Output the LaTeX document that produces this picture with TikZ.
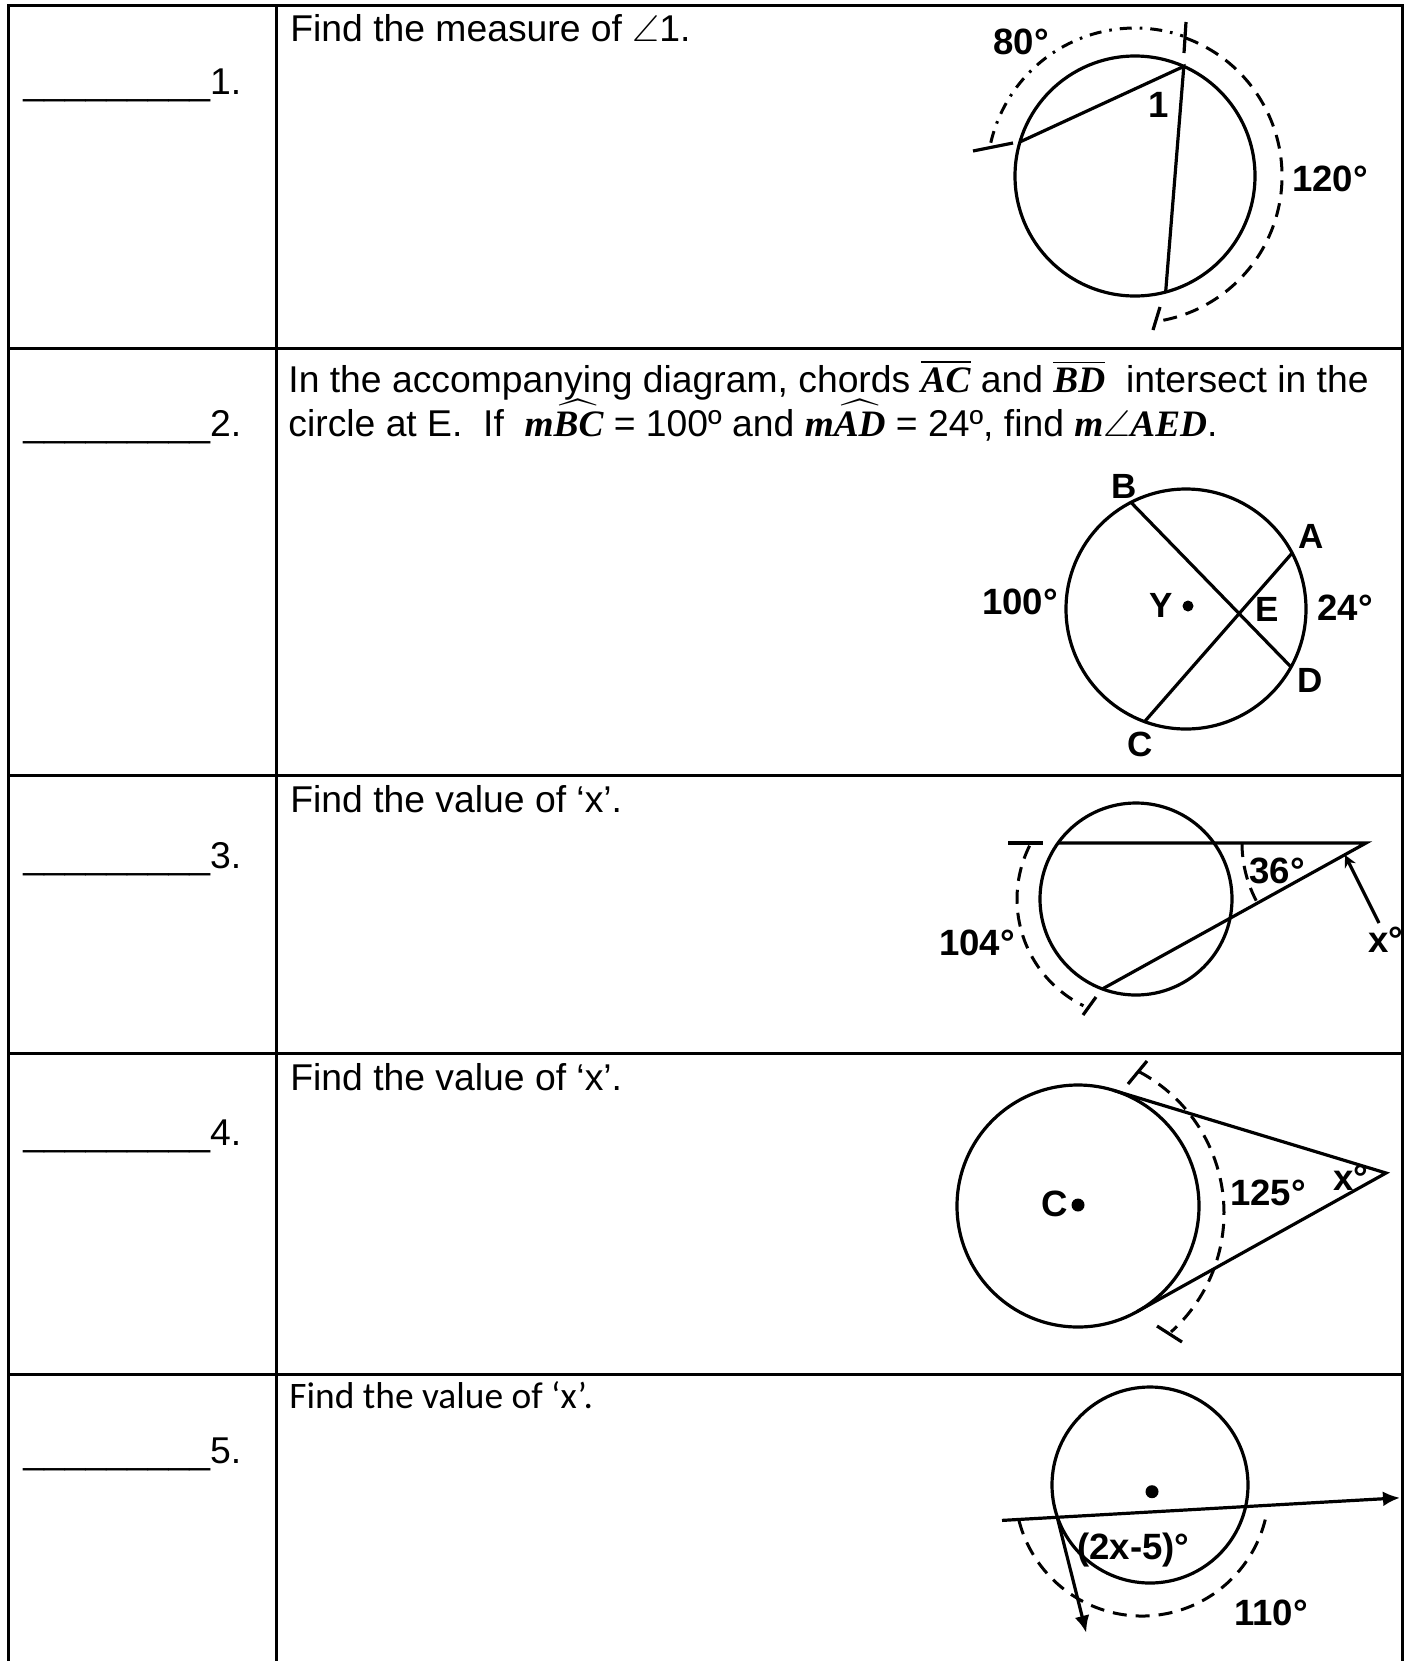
\documentclass[tikz,border=0pt]{standalone}
\usepackage{amsmath}
\usepackage{amssymb}
\usepackage{fontspec}
\setmainfont{Liberation Sans}
\newfontfamily\calibrifont{Carlito}
\newfontfamily\seriffont{Liberation Serif}
\usetikzlibrary{calc,arrows.meta}
\newcommand{\answerline}{\_\_\_\_\_\_\_\_\_}
\newcommand{\mvar}[1]{\hbox{\seriffont\bfseries\itshape #1}}

\begin{document}
\begin{tikzpicture}[x=0.5pt, y=0.5pt,
		tbl/.style={line width=1.5pt},
		fig/.style={line width=1.6pt},
		dsh/.style={line width=1.5pt, dash pattern=on 7pt off 4.5pt},
		dshdot/.style={line width=1.5pt, dash pattern=on 6pt off 4pt on 1.3pt off 4pt},
		txt/.style={anchor=base west, inner sep=0pt, font=\fontsize{18.65}{22}\selectfont},
		txtc/.style={anchor=base west, inner sep=0pt, font=\calibrifont\fontsize{18.7}{22}\selectfont},
		lbl/.style={inner sep=0pt, font=\bfseries\fontsize{17.5}{19}\selectfont},
		deg/.style={inner sep=0pt, font=\bfseries\fontsize{18.3}{20}\selectfont}]
		\useasboundingbox (0,0) rectangle (1406,-1661);
		\draw[tbl] (8,-1680) -- (8,-5.5) -- (1402,-5.5) -- (1402,-1680);
		\draw[tbl] (276,-5.5) -- (276,-1680);
		\foreach \y in {348,775,1053,1374}
			\draw[tbl] (8,-\y) -- (1402,-\y);
		\foreach \n/\y in {1/94, 2/436, 3/868, 4/1145, 5/1463}
			\node[txt] (ans\n) at (23,-\y) {\answerline\n.};
		\node[txt] (q1) at (290,-41.7) {Find the measure of $\angle$1.};
		\node[txt] (q2a) at (288,-392) {In the accompanying diagram, chords $\overline{\mvar{AC}}$ and $\overline{\mvar{BD}}$\ \ intersect in the};
		\node[txt] (q2b) at (288,-436) {circle at E.\ \ If\ \ $\mvar{m}\smash[t]{\widehat{\mvar{BC}}}$ = 100º and $\mvar{m}\smash[t]{\widehat{\mvar{AD}}}$ = 24º, find $\mvar{m}{\angle}\mvar{AED}$.};
		\node[txt] (q3) at (290,-812) {Find the value of ‘x’.};
		\node[txt] (q4) at (290,-1090) {Find the value of ‘x’.};
		\node[txtc] (q5) at (289,-1408) {Find the value of ‘x’.};

		\coordinate (o1) at (1135,-176);
		\coordinate (p1) at ($(o1)+(66:120)$);
		\coordinate (q1pt) at ($(o1)+(163.5:120)$);
		\coordinate (r1) at ($(o1)+(284.8:120)$);
		\draw[fig] (o1) circle[radius=120];
		\draw[fig] (q1pt) -- (p1) -- (r1);
		\draw[dshdot] ($(o1)+(167:148)$) arc[start angle=167, end angle=71, radius=148];
		\draw[dsh] ($(o1)+(70:147)$) arc[start angle=70, end angle=-80, radius=147];
		\draw[fig] (973,-151) -- (1013,-143);
		\draw[fig] (1186,-22) -- (1184,-53);
		\draw[fig] (1153,-330) -- (1160,-307);
		\node[deg] (m80) at (1021,-42) {80°};
		\node[deg] (ang1) at (1159,-105) {1};
		\node[deg] (m120) at (1330,-179) {120°};

		\coordinate (o2) at (1186,-609);
		\coordinate (ptA) at ($(o2)+(27.8:120)$);
		\coordinate (ptB) at ($(o2)+(117.3:120)$);
		\coordinate (ptC) at ($(o2)+(249.8:120)$);
		\coordinate (ptD) at ($(o2)+(-28.9:120)$);
		\draw[fig] (o2) circle[radius=120];
		\draw[fig] (ptB) -- (ptD);
		\draw[fig] (ptA) -- (ptC);
		\fill (1188,-606) circle[radius=5.5];
		\node[lbl] (labB) at (1124.5,-486.4) {B};
		\node[lbl] (labA) at (1311.5,-536.8) {A};
		\node[lbl] (labE) at (1266.8,-609.2) {E};
		\node[lbl] (labD) at (1310.6,-680.8) {D};
		\node[lbl] (labC) at (1140.5,-744) {C};
		\node[lbl] (labY) at (1161.5,-605.8) {Y};
		\node[deg] (m100) at (1020,-601.6) {100°};
		\node[deg] (m24) at (1345.2,-607.5) {24°};

		\coordinate (o3) at (1136,-899);
		\coordinate (v3) at (1366,-843);
		\coordinate (h3) at (1058,-843);
		\coordinate (f3) at ($(o3)+(249.5:96)$);
		\coordinate (xtail3) at (1379,-923);
		\coordinate (xtip3) at (1345,-855);
		\draw[fig] (o3) circle[radius=96];
		\draw[fig] (h3) -- (v3) -- (f3);
		\draw[fig] (1008,-843) -- (1043,-843);
		\draw[fig] (1083,-1015) -- (1096,-997);
		\draw[dsh] ($(o3)+(153.4:119)$) arc[start angle=153.4, end angle=243.8, radius=119];
		\draw[dsh] ($(v3)+(180:124)$) arc[start angle=180, end angle=208.7, radius=124];
		\draw[fig, -{Stealth[length=6pt,width=6pt]}] (xtail3) -- (xtip3);
		\node[deg] (m36) at (1277,-871) {36°};
		\node[deg] (m104) at (977,-942.5) {104°};
		\node[deg, anchor=base west] (x3) at (1368,-952) {x°};

		\coordinate (o4) at (1078,-1206);
		\coordinate (v4) at (1386,-1173);
		\coordinate (t4a) at ($(o4)+(73.1:121)$);
		\coordinate (t4b) at ($(o4)+(-60.9:121)$);
		\coordinate (c4) at (1064,-1213);
		\draw[fig] (o4) circle[radius=121];
		\draw[fig] (t4a) -- (v4) -- (t4b);
		\draw[dsh] ($(c4)+(62:160)$) arc[start angle=62, end angle=-48, radius=160];
		\draw[fig] (1128,-1084) -- (1147,-1061);
		\draw[fig] (1157,-1326) -- (1182,-1342);
		\fill (1078,-1205) circle[radius=6.5];
		\node[deg] (labC4) at (1055,-1204) {C};
		\node[deg] (m125) at (1268,-1193) {125°};
		\node[deg] (x4) at (1351,-1178) {x°};

		\coordinate (o5) at (1150,-1485);
		\coordinate (a5) at (1002,-1520.4);
		\coordinate (b5) at (1400,-1497.8);
		\coordinate (v5) at (1057.6,-1518.7);
		\coordinate (d5) at (1086.2,-1632.7);
		\coordinate (c5) at (1142,-1489);
		\draw[fig] (o5) circle[radius=98];
		\draw[fig, -{Latex[length=8.5pt,width=7.5pt]}] (a5) -- (b5);
		\draw[fig, -{Latex[length=8.5pt,width=7.5pt]}] (v5) -- (d5);
		\draw[dsh] ($(c5)+(194.5:127)$) arc[start angle=194.5, end angle=348, radius=127];
		\fill (1152,-1491.7) circle[radius=6.5];
		\node[deg] (m2x) at (1133.5,-1550) {(2x-5)°};
		\node[deg] (m110) at (1271,-1612.5) {110°};
	\end{tikzpicture}
\end{document}
